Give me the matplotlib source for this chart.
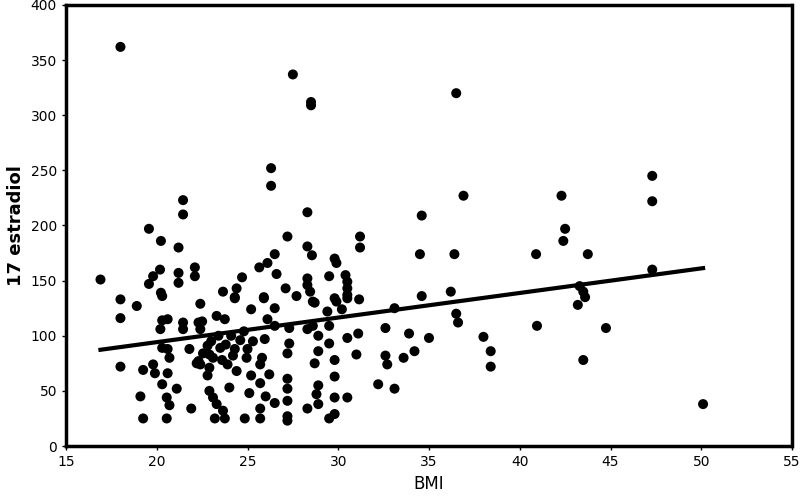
import numpy as np
import matplotlib
matplotlib.use("Agg")
import matplotlib.pyplot as plt

# BMI / 17 estradiol values
bmi = [18.0, 16.9, 18.0, 18.0, 18.0, 18.9, 19.1, 19.25, 19.25, 19.57,
       20.23, 21.2, 21.45, 21.45, 20.18, 19.8, 19.57, 20.23, 21.2, 21.2,
       22.1, 22.1, 20.3, 20.6, 20.2, 21.45, 21.45, 22.3, 20.3, 20.6,
       20.7, 21.8, 22.3, 19.8, 19.9, 20.6, 20.3, 21.1, 20.55, 20.7,
       21.9, 20.55, 20.3, 22.2,
       26.3, 26.3, 27.2, 26.5, 26.1, 25.65, 26.6, 24.7, 24.4, 23.65,
       27.1, 27.7, 25.9, 24.3,
       24.3, 25.9, 22.4, 26.5, 25.2, 23.3, 23.75, 22.5, 26.1, 26.5,
       27.3, 22.4, 24.1, 25.3, 25.95, 27.3, 22.8, 23.5, 24.3, 22.55,
       27.2, 23.1, 24.95, 25.8, 23.9, 22.4, 22.9, 25.7, 24.4, 22.8,
       25.2, 26.2, 25.7, 27.2, 24.0, 22.9, 25.1, 26.0, 27.2, 23.1,
       26.5, 27.2, 23.3, 25.7, 23.65, 23.2, 23.75, 24.85, 25.7, 27.2,
       27.2, 23.0, 23.4, 23.8, 24.2, 24.6, 22.9, 23.6, 24.8, 25.0,
       28.3, 31.2, 31.2, 28.3, 28.55, 29.8, 29.9, 29.5, 30.4, 30.5,
       30.5, 30.5, 28.3, 28.3, 28.45, 29.8, 31.15, 28.6,
       28.7, 29.9, 30.5, 29.4, 30.2, 33.1, 28.3, 28.6, 28.9, 29.5,
       30.5, 31.1, 32.6, 29.5, 28.9, 31.0, 32.6, 32.7, 28.7, 29.8,
       29.8, 28.9, 28.8, 29.8, 30.5, 32.2, 33.1, 28.9, 28.3, 29.8,
       29.5,
       27.5, 28.5, 28.5, 36.5, 36.9, 34.6, 34.5, 36.4, 34.6, 36.2,
       36.5, 36.6, 35.0, 33.9, 33.6, 34.2, 38.0, 38.4, 38.4, 40.9,
       40.95, 42.3, 42.5, 42.4, 43.75, 43.3, 43.5, 43.6, 43.2, 43.5,
       44.75, 47.3, 47.3, 47.3, 50.1]
estradiol = [362, 151, 133, 116, 72, 127, 45, 25, 69, 197,
             186, 180, 223, 210, 160, 154, 147, 139, 157, 148,
             162, 154, 114, 115, 106, 112, 106, 112, 89, 88,
             80, 88, 77, 74, 66, 66, 56, 52, 44, 37,
             34, 25, 136, 75,
             252, 236, 190, 174, 166, 162, 156, 153, 143, 140,
             143, 136, 135, 135,
             134, 134, 129, 125, 124, 118, 115, 113, 115, 109,
             107, 106, 100, 95, 97, 93, 91, 89, 88, 84,
             84, 80, 80, 80, 74, 74, 71, 74, 68, 64,
             64, 65, 57, 61, 53, 50, 48, 45, 52, 44,
             39, 41, 38, 34, 32, 25, 25, 25, 25, 23,
             27, 95, 100, 92, 82, 96, 83, 78, 104, 88,
             212, 190, 180, 181, 173, 170, 166, 154, 155, 149,
             143, 137, 152, 146, 140, 134, 133, 131,
             130, 131, 134, 122, 124, 125, 106, 109, 100, 109,
             98, 102, 107, 93, 86, 83, 82, 74, 75, 78,
             63, 55, 47, 44, 44, 56, 52, 38, 34, 29,
             25,
             337, 312, 309, 320, 227, 209, 174, 174, 136, 140,
             120, 112, 98, 102, 80, 86, 99, 86, 72, 174,
             109, 227, 197, 186, 174, 145, 140, 135, 128, 78,
             107, 245, 222, 160, 38]

# regression line
fit_intercept = 49.6
fit_slope = 2.23

fig, ax = plt.subplots(figsize=(8, 4.98), dpi=100)
fig.subplots_adjust(left=0.0825, right=0.99, top=0.99, bottom=0.1044)

ax.scatter(bmi, estradiol, s=52, color="black", edgecolors="none", zorder=3)

x_line = np.array([min(bmi), max(bmi)])
ax.plot(x_line, fit_intercept + fit_slope * x_line, color="black", linewidth=3, zorder=4)

ax.set_xlim(15, 55)
ax.set_ylim(0, 400)
ax.set_xticks(range(15, 56, 5))
ax.set_yticks(range(0, 401, 50))
ax.tick_params(direction="out", length=3, width=1, labelsize=10, color="black")

# textured frame of the original, approximated with dots
for s in ax.spines.values():
    s.set_linestyle((0, (1, 1)))
    s.set_linewidth(2.5)
    s.set_color("black")

ax.set_xlabel("BMI", fontsize=12)
ax.set_ylabel("17 estradiol", fontsize=13, fontweight="bold")

fig.savefig("out.png", dpi=100)
